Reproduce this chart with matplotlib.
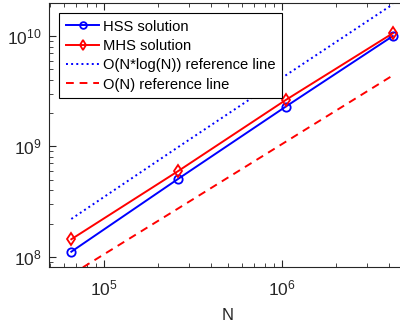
import matplotlib
matplotlib.use("Agg")
import matplotlib.pyplot as plt

# problem sizes and timings
N = [65536, 262144, 1048576, 4194304]
hss = [1.11e8, 5.1e8, 2.29e9, 1.0e10]
mhs = [1.44e8, 6.0e8, 2.63e9, 1.06e10]
ref_nlogn = [2.2e8, 9.9e8, 4.4e9, 1.94e10]
ref_n = [6.9e7, 2.75e8, 1.1e9, 4.4e9]

plt.rcParams["font.family"] = ["Liberation Sans", "DejaVu Sans"]
plt.rcParams["mathtext.fontset"] = "custom"
plt.rcParams["mathtext.rm"] = "Liberation Sans"

gray = "#262626"
fig = plt.figure(figsize=(4, 3.26), dpi=100)
ax = fig.add_axes([0.1225, 0.181, 0.895, 0.811])

ax.loglog(N, hss, "-o", color="blue", lw=1.4, ms=6, mfc="none", mew=1.3,
          label="HSS solution")
ax.loglog(N, mhs, "-d", color="red", lw=1.4, ms=6, mfc="none", mew=1.3,
          label="MHS solution")
ax.loglog(N, ref_nlogn, ":", color="blue", lw=1.4,
          label="O(N*log(N)) reference line")
ax.loglog(N, ref_n, "--", color="red", lw=1.4, dashes=(4, 3),
          label="O(N) reference line")

ax.set_xlim(4.91e4, 5.04e6)
ax.set_ylim(8.07e7, 2.01e10)
ax.set_xlabel("N", fontsize=12, color=gray, labelpad=7)

for s in ax.spines.values():
    s.set_color(gray)
    s.set_linewidth(0.8)
ax.tick_params(which="both", direction="in", top=True, right=True,
               colors=gray, labelsize=12.5)
ax.tick_params(which="major", length=5)
ax.tick_params(which="minor", length=3)
ax.tick_params(axis="x", pad=8)
ax.tick_params(axis="y", pad=5)

leg = ax.legend(loc="upper left", bbox_to_anchor=(59 / 400, 1 - 13 / 326),
                bbox_transform=fig.transFigure, fontsize=10.6, fancybox=False,
                framealpha=1, edgecolor="black", handlelength=2.3,
                handletextpad=0.25, labelspacing=0.36, borderpad=0.45,
                borderaxespad=0, markerscale=0.8)
leg.get_frame().set_linewidth(0.8)

fig.savefig("out.png", dpi=100)
